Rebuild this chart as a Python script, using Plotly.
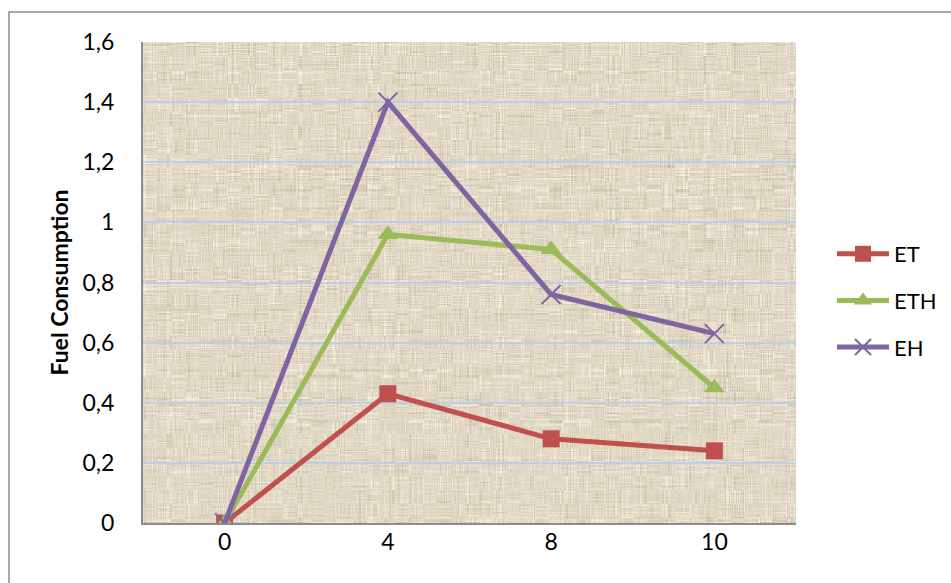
import base64
import struct
import zlib

import numpy as np
import plotly.graph_objects as go

# ---- data ----
categories = ["0", "4", "8", "10"]
et_values = [0.0, 0.43, 0.28, 0.24]
eth_values = [0.0, 0.96, 0.91, 0.45]
eh_values = [0.0, 1.40, 0.76, 0.63]
y_tickvals = [0, 0.2, 0.4, 0.6, 0.8, 1.0, 1.2, 1.4, 1.6]
y_ticktext = ["0", "0,2", "0,4", "0,6", "0,8", "1", "1,2", "1,4", "1,6"]

W, H = 951, 583
L, R, T, B = 143, 155, 42, 60
PW, PH = W - L - R, H - T - B


def burlap_png(w, h):
    """Woven canvas texture as a base64 PNG data URI."""
    rng = np.random.default_rng(11)
    base = np.array([225, 217, 197], dtype=float)
    cols = rng.normal(0, 1, w)
    rows = rng.normal(0, 1, h)
    blk_h = rng.normal(0, 1, (h // 3 + 1, w // 14 + 1))
    blk_v = rng.normal(0, 1, (h // 14 + 1, w // 3 + 1))
    yy, xx = np.mgrid[0:h, 0:w]
    hv = blk_h[yy // 3, xx // 14] * rows[yy]
    vv = blk_v[yy // 14, xx // 3] * cols[xx]
    shade = 7 * np.clip(hv, -2, 2) + 7 * np.clip(vv, -2, 2)
    shade += rng.normal(0, 3, (h, w))
    img = base + shade[..., None] * np.array([1.0, 1.0, 1.1])
    img = np.clip(img, 160, 250).astype(np.uint8)
    raw = b"".join(b"\x00" + img[r].tobytes() for r in range(h))

    def chunk(tag, data):
        c = struct.pack(">I", len(data)) + tag + data
        return c + struct.pack(">I", zlib.crc32(tag + data) & 0xFFFFFFFF)

    png = b"\x89PNG\r\n\x1a\n"
    png += chunk(b"IHDR", struct.pack(">IIBBBBB", w, h, 8, 2, 0, 0, 0))
    png += chunk(b"IDAT", zlib.compress(raw, 9))
    png += chunk(b"IEND", b"")
    return "data:image/png;base64," + base64.b64encode(png).decode()


FONT = "Lato, 'Liberation Sans', sans-serif"

fig = go.Figure()
fig.add_trace(go.Scatter(
    x=categories, y=et_values, name="ET", mode="lines+markers",
    line=dict(color="#c0504d", width=5),
    marker=dict(symbol="square", size=17, color="#c0504d"),
    legendgroup="a",
))
fig.add_trace(go.Scatter(
    x=categories, y=eth_values, name="ETH", mode="lines+markers",
    line=dict(color="#9bbb59", width=5),
    marker=dict(symbol="triangle-up", size=18, color="#9bbb59"),
    legendgroup="b",
))
fig.add_trace(go.Scatter(
    x=categories, y=eh_values, name="EH", mode="lines+markers",
    line=dict(color="#8064a2", width=5),
    marker=dict(symbol="x-thin", size=19, color="#8064a2",
                line=dict(color="#8064a2", width=2)),
    legendgroup="c",
))


def px_x(p):
    return (p - L) / PW


def px_y(p):
    return (H - B - p) / PH


fig.update_layout(
    width=W, height=H,
    margin=dict(l=L, r=R, t=T, b=B, pad=0, autoexpand=False),
    paper_bgcolor="white",
    plot_bgcolor="#e1d9c5",
    font=dict(family=FONT, size=22, color="black"),
    showlegend=True,
    legend=dict(
        x=px_x(832), y=px_y(233), xanchor="left", yanchor="top",
        font=dict(family=FONT, size=22), tracegroupgap=15,
        itemwidth=52,
        bgcolor="rgba(0,0,0,0)",
    ),
    images=[dict(
        source=burlap_png(PW, PH), xref="paper", yref="paper",
        x=0, y=1, sizex=1, sizey=1, sizing="stretch",
        xanchor="left", yanchor="top", layer="below",
    )],
    shapes=[dict(
        type="rect", xref="paper", yref="paper",
        x0=px_x(9), x1=px_x(980), y0=px_y(620), y1=px_y(12),
        line=dict(color="#8c8c8c", width=1.5), fillcolor="rgba(0,0,0,0)",
        layer="below",
    )],
)

fig.update_xaxes(
    type="category", range=[-0.5, 3.5],
    showgrid=False, zeroline=False,
    showline=True, linecolor="#8c8c8c", linewidth=2,
    ticks="", ticklabelstandoff=-3,
    tickfont=dict(family=FONT, size=23),
)
fig.update_yaxes(
    range=[0, 1.6], tickvals=y_tickvals, ticktext=y_ticktext,
    showgrid=True, gridcolor="#bccde6", gridwidth=2,
    zeroline=False,
    showline=True, linecolor="#8c8c8c", linewidth=2,
    ticks="", ticklabelstandoff=22,
    tickfont=dict(family=FONT, size=23),
    title=dict(text="<b>Fuel Consumption</b>", standoff=7,
               font=dict(family=FONT, size=23)),
)

fig.write_html("out.html")
